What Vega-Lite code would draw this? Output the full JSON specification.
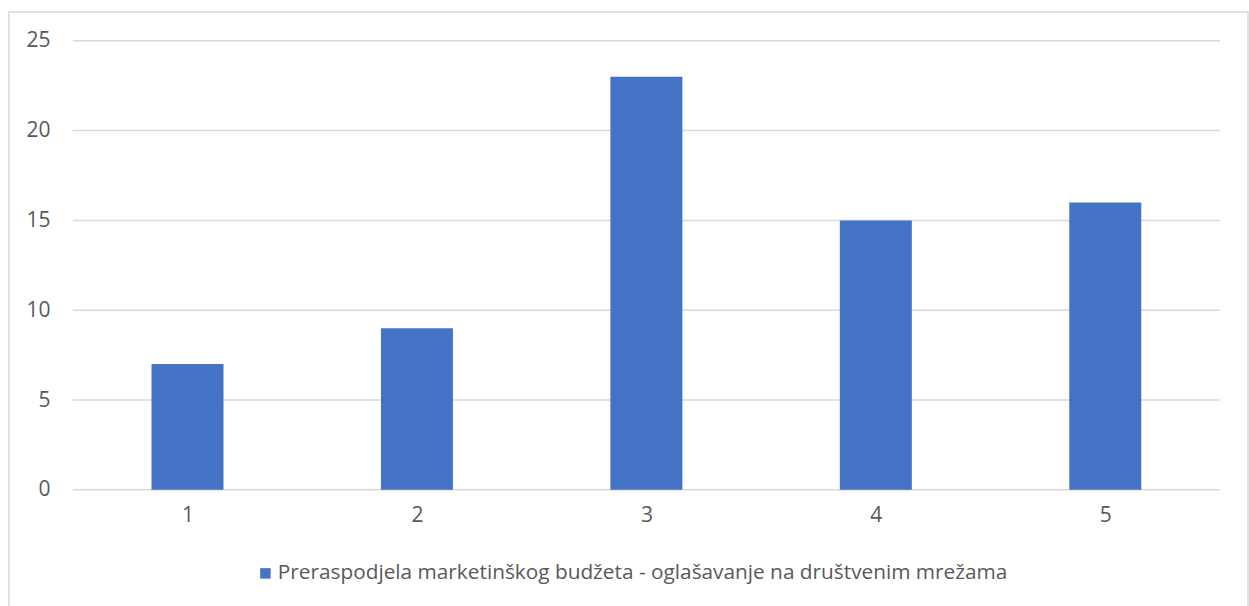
{
  "$schema": "https://vega.github.io/schema/vega-lite/v6.json",
  "autosize": {"type": "none"},
  "width": 1239,
  "height": 600,
  "padding": {"left": 9, "top": 12, "right": 1, "bottom": 0},
  "background": "white",
  "config": {
    "view": {"stroke": "#d9d9d9", "strokeWidth": 1.5},
    "font": "Open Sans"
  },
  "datasets": {
    "bars": [
      {"kategorija": 1, "vrijednost": 7, "serija": "Preraspodjela marketinškog budžeta - oglašavanje na društvenim mrežama"},
      {"kategorija": 2, "vrijednost": 9, "serija": "Preraspodjela marketinškog budžeta - oglašavanje na društvenim mrežama"},
      {"kategorija": 3, "vrijednost": 23, "serija": "Preraspodjela marketinškog budžeta - oglašavanje na društvenim mrežama"},
      {"kategorija": 4, "vrijednost": 15, "serija": "Preraspodjela marketinškog budžeta - oglašavanje na društvenim mrežama"},
      {"kategorija": 5, "vrijednost": 16, "serija": "Preraspodjela marketinškog budžeta - oglašavanje na društvenim mrežama"}
    ],
    "grid": [{"v": 0}, {"v": 5}, {"v": 10}, {"v": 15}, {"v": 20}, {"v": 25}]
  },
  "layer": [
    {
      "data": {"name": "grid"},
      "mark": {"type": "rule", "color": "#d9d9d9", "strokeWidth": 1.5},
      "encoding": {
        "y": {
          "field": "v",
          "type": "quantitative",
          "scale": {"domain": [-6.8, 26.6], "nice": false, "zero": false, "padding": 0},
          "axis": {
            "values": [0, 5, 10, 15, 20, 25],
            "domain": false,
            "ticks": false,
            "tickSize": 0,
            "grid": false,
            "title": null,
            "labelFont": "Open Sans",
            "labelFontSize": 21,
            "labelColor": "#595959",
            "labelPadding": 0,
            "labelFlush": false,
            "labelOverlap": false,
            "offset": -41
          }
        },
        "x": {
          "datum": 0.5,
          "type": "quantitative",
          "scale": {"domain": [0.222, 5.622], "nice": false, "zero": false, "padding": 0},
          "axis": {
            "values": [1, 2, 3, 4, 5],
            "format": "d",
            "domain": false,
            "ticks": false,
            "tickSize": 0,
            "grid": false,
            "title": null,
            "labelFont": "Open Sans",
            "labelFontSize": 21,
            "labelColor": "#595959",
            "labelPadding": 14,
            "labelFlush": false,
            "labelOverlap": false,
            "offset": -122
          }
        },
        "x2": {"datum": 5.5}
      }
    },
    {
      "data": {"name": "bars"},
      "mark": {"type": "bar", "width": 72},
      "encoding": {
        "x": {
          "field": "kategorija",
          "type": "quantitative",
          "scale": {"domain": [0.222, 5.622], "nice": false, "zero": false, "padding": 0}
        },
        "y": {
          "field": "vrijednost",
          "type": "quantitative",
          "scale": {"domain": [-6.8, 26.6], "nice": false, "zero": false, "padding": 0}
        },
        "y2": {"datum": 0},
        "color": {
          "field": "serija",
          "type": "nominal",
          "scale": {"range": ["#4472c4"]},
          "legend": {
            "orient": "none",
            "legendX": 246,
            "legendY": 551,
            "title": null,
            "symbolType": "square",
            "symbolSize": 110,
            "symbolStrokeWidth": 0,
            "labelFont": "Open Sans",
            "labelFontSize": 20.8,
            "labelColor": "#595959",
            "labelOffset": 2,
            "labelLimit": 1000
          }
        }
      }
    }
  ]
}
